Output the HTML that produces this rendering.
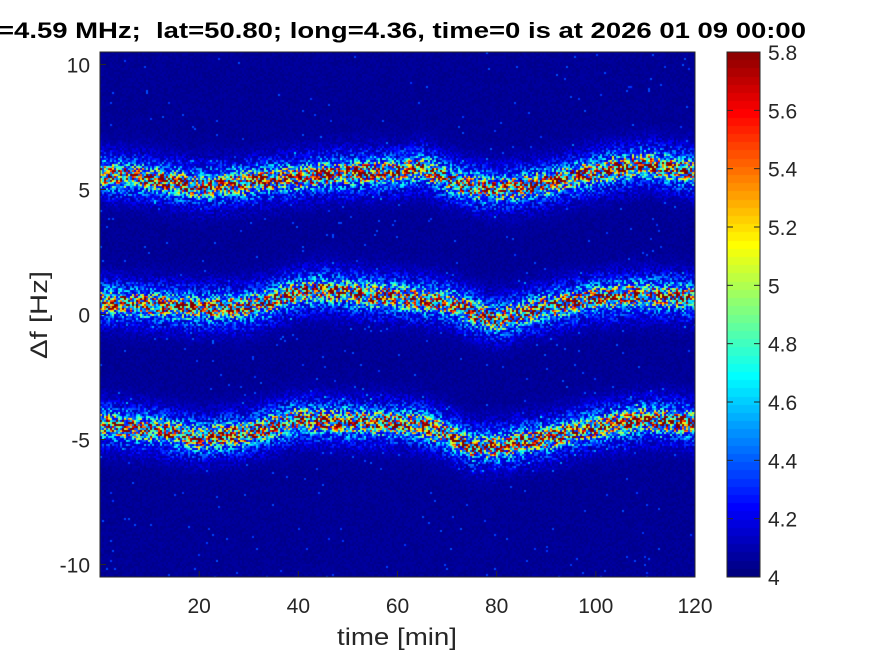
<!DOCTYPE html>
<html><head><meta charset="utf-8"><style>
body{margin:0;background:#fff;width:875px;height:656px;overflow:hidden;position:relative;font-family:"Liberation Sans",sans-serif;color:#262626}
</style></head><body>
<canvas id="hm" width="595" height="525" style="position:absolute;left:100px;top:52px"></canvas>
<canvas id="cb" width="33" height="525" style="position:absolute;left:727px;top:52px"></canvas>
<svg id="ax" width="875" height="656" style="position:absolute;left:0;top:0">
<text x="-2" y="38" font-size="22" font-weight="bold" fill="#000" textLength="808" lengthAdjust="spacingAndGlyphs" xml:space="preserve">=4.59 MHz;  lat=50.80; long=4.36, time=0 is at 2026 01 09 00:00</text>
</svg>
<script>
const times=[0,10,20,30,40,45,50,60,65,70,75,80,85,90,100,110,120];
const topBand=[5.6,5.45,5.1,5.3,5.5,5.6,5.65,5.7,5.9,5.4,5.1,5.0,5.1,5.25,5.7,6.0,5.7];
const midBand=[0.5,0.4,0.25,0.3,0.9,1.0,0.85,0.7,0.6,0.5,0.1,-0.2,0.05,0.3,0.65,0.8,0.65];
const lowBand=[-4.4,-4.6,-4.95,-4.75,-4.2,-4.25,-4.3,-4.35,-4.45,-4.8,-5.3,-5.3,-5.1,-4.95,-4.5,-4.2,-4.35];
const xTicks=[20,40,60,80,100,120];
const yTicks=[10,5,0,-5,-10];
const cTicks=[4,4.2,4.4,4.6,4.8,5,5.2,5.4,5.6,5.8];
const X0=100,X1=695,Y0=52,Y1=577,tMin=0,tMax=120,fMin=-10.5,fMax=10.5,cMin=4,cMax=5.8;
const xs=t=>X0+(t-tMin)/(tMax-tMin)*(X1-X0);
const ys=f=>Y1-(f-fMin)/(fMax-fMin)*(Y1-Y0);
const cs=v=>Y1-(v-cMin)/(cMax-cMin)*(Y1-Y0);
function interp(arr,t){for(let i=0;i<times.length-1;i++){if(t<=times[i+1]){const a=(t-times[i])/(times[i+1]-times[i]);return arr[i]*(1-a)+arr[i+1]*a;}}return arr[arr.length-1];}
function jet(v){const x=Math.max(0,Math.min(1,(v-cMin)/(cMax-cMin)));const r=Math.min(4*x-1.5,-4*x+4.5),g=Math.min(4*x-0.5,-4*x+3.5),b=Math.min(4*x+0.5,-4*x+2.5);const c=q=>Math.round(255*Math.max(0,Math.min(1,q)));return[c(r),c(g),c(b)];}
function h(i,j){let n=(i*374761393+j*668265263)|0;n=(n^(n>>>13))*1274126177|0;return((n^(n>>>16))>>>0)/4294967295;}
const hm=document.getElementById('hm'),ctx=hm.getContext('2d'),img=ctx.createImageData(595,525);
for(let px=0;px<595;px++){const t=tMin+(px+0.5)/595*(tMax-tMin);const cs3=[interp(topBand,t),interp(midBand,t),interp(lowBand,t)];
const cx=px>>1;
for(let py=0;py<525;py++){const f=fMax-(py+0.5)/525*(fMax-fMin);const cy=py>>1;let v=4.04+(h(cx,cy)-0.5)*0.05;let b=0;
for(const c of cs3){const d=f-c;b+=1.25*Math.exp(-d*d/(2*0.22*0.22))+0.55*Math.exp(-d*d/(2*0.6*0.6));}
const r=h(cx+1000,cy+77);b*=(0.15+1.3*r*r+0.3*r);if(h(cx+5,cy+9)>0.993)b+=0.3;v+=b;
const col=jet(v),k=(py*595+px)*4;img.data[k]=col[0];img.data[k+1]=col[1];img.data[k+2]=col[2];img.data[k+3]=255;}}
ctx.putImageData(img,0,0);
const cb=document.getElementById('cb'),cc=cb.getContext('2d');
for(let py=0;py<525;py++){const v=cMax-(py+0.5)/525*(cMax-cMin);const q=Math.floor((v-cMin)/(cMax-cMin)*64)/64*(cMax-cMin)+cMin;const c=jet(q);cc.fillStyle=`rgb(${c[0]},${c[1]},${c[2]})`;cc.fillRect(0,py,33,1);}
const svg=document.getElementById('ax'),NS='http://www.w3.org/2000/svg';
function el(tag,attrs,txt){const e=document.createElementNS(NS,tag);for(const k in attrs)e.setAttribute(k,attrs[k]);if(txt!==undefined)e.textContent=txt;svg.appendChild(e);return e;}
el('rect',{x:X0,y:Y0,width:X1-X0,height:Y1-Y0,fill:'none',stroke:'#262626','stroke-width':1});
el('rect',{x:727,y:Y0,width:33,height:Y1-Y0,fill:'none',stroke:'#262626','stroke-width':1});
for(const t of xTicks){const x=xs(t);el('line',{x1:x,x2:x,y1:Y1,y2:Y1-6,stroke:'#262626'});const e=el('text',{x:x,y:Y1+36,'text-anchor':'middle','font-size':21,fill:'#262626'},String(t));

}
for(const f of yTicks){const y=ys(f);el('line',{x1:X0,x2:X0+6,y1:y,y2:y,stroke:'#262626'});const e=el('text',{x:X0-10,y:y+8,'text-anchor':'end','font-size':21,fill:'#262626'},String(f));

}
for(const c of cTicks){const y=cs(c);el('line',{x1:727,x2:733,y1:y,y2:y,stroke:'#262626'});el('line',{x1:754,x2:760,y1:y,y2:y,stroke:'#262626'});const e=el('text',{x:768,y:y+8,'font-size':21,fill:'#262626'},String(c));

}
const xl=el('text',{x:397,y:645,'text-anchor':'middle','font-size':24,fill:'#262626',textLength:120,lengthAdjust:'spacingAndGlyphs'},'time [min]');


const yl=el('text',{x:0,y:0,'text-anchor':'middle','font-size':24,fill:'#262626',textLength:88,lengthAdjust:'spacingAndGlyphs',transform:'translate(47,315) rotate(-90)'},'Δf [Hz]');


</script>
</body></html>
